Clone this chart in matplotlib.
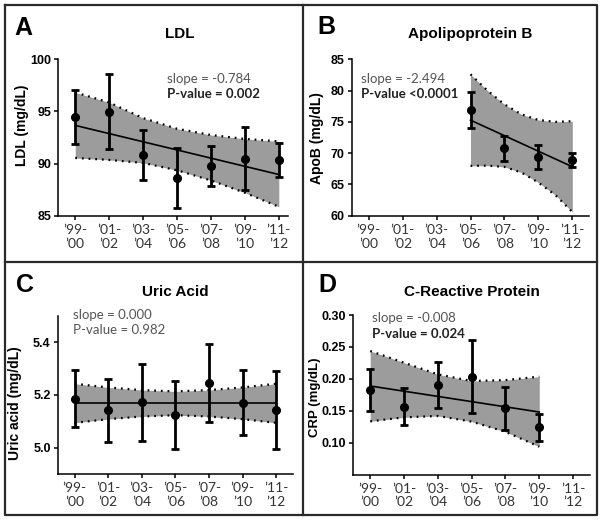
import matplotlib
matplotlib.use("Agg")
import matplotlib.pyplot as plt
from matplotlib.lines import Line2D

# survey cycles
cycles = ["\u201999-\n\u201900", "\u201901-\n\u201902", "\u201903-\n\u201904", "\u201905-\n\u201906",
          "\u201907-\n\u201908", "\u201909-\n\u201910", "\u201911-\n\u201912"]

# A: LDL
ldl_x = [0, 1, 2, 3, 4, 5, 6]
ldl_mean = [94.45, 94.95, 90.85, 88.6, 89.75, 90.45, 90.35]
ldl_lo = [91.9, 91.35, 88.45, 85.75, 87.85, 87.45, 88.7]
ldl_hi = [97.05, 98.6, 93.2, 91.45, 91.65, 93.55, 92.0]
ldl_fit = [93.66, 88.95]
ldl_band_x = [0, 1, 2, 3, 4, 5, 6]
ldl_band_hi = [96.82, 95.86, 94.36, 93.34, 92.74, 92.36, 92.13]
ldl_band_lo = [90.54, 90.35, 90.06, 89.36, 88.38, 87.2, 85.86]

# B: Apolipoprotein B
apob_x = [3, 4, 5, 6]
apob_mean = [76.85, 70.85, 69.4, 68.95]
apob_lo = [73.95, 68.7, 67.5, 67.75]
apob_hi = [79.75, 72.8, 71.35, 70.1]
apob_fit = [75.27, 67.83]
apob_band_x = [3, 3.5, 4, 4.5, 5, 5.5, 6]
apob_band_hi = [82.6, 80.0, 77.8, 76.2, 75.3, 75.0, 75.1]
apob_band_lo = [67.97, 68.0, 67.8, 66.9, 65.3, 63.3, 60.6]

# C: Uric acid
uric_x = [0, 1, 2, 3, 4, 5, 6]
uric_mean = [5.186, 5.143, 5.172, 5.123, 5.243, 5.171, 5.143]
uric_lo = [5.077, 5.023, 5.027, 4.996, 5.097, 5.047, 4.996]
uric_hi = [5.295, 5.261, 5.318, 5.252, 5.392, 5.294, 5.289]
uric_fit = [5.168, 5.168]
uric_band_x = [0, 1, 2, 3, 4, 5, 6]
uric_band_hi = [5.242, 5.228, 5.218, 5.213, 5.218, 5.228, 5.242]
uric_band_lo = [5.094, 5.108, 5.118, 5.123, 5.118, 5.108, 5.094]

# D: CRP
crp_x = [0, 1, 2, 3, 4, 5]
crp_mean = [0.182, 0.156, 0.191, 0.203, 0.154, 0.124]
crp_lo = [0.149, 0.127, 0.155, 0.146, 0.120, 0.103]
crp_hi = [0.215, 0.186, 0.226, 0.261, 0.187, 0.145]
crp_fit = [0.1888, 0.148]
crp_band_x = [0, 1, 2, 3, 4, 5]
crp_band_hi = [0.2436, 0.2253, 0.207, 0.1966, 0.198, 0.2034]
crp_band_lo = [0.1334, 0.1397, 0.1418, 0.133, 0.117, 0.0937]

W, H = 604, 521
fig = plt.figure(figsize=(W / 100, H / 100), dpi=100)

BOLD = "Liberation Sans"
LIGHT = "Lato"


def fx(px):
    return px / W


def fy(py):
    return 1 - py / H


def panel(rect, x, mean, lo, hi, fit, bx, bhi, blo, ylim, yticks, yfmt, xlim):
    ax = fig.add_axes(rect)
    ax.fill_between(bx, blo, bhi, color="#9c9c9c", lw=0, zorder=1)
    ax.plot(bx, bhi, color="black", lw=1.6, ls=(0, (0.8, 2.2)), zorder=2)
    ax.plot(bx, blo, color="black", lw=1.6, ls=(0, (0.8, 2.2)), zorder=2)
    ax.plot([x[0], x[-1]], fit, color="black", lw=1.2, zorder=3)
    yerr = [[m - l for m, l in zip(mean, lo)], [h - m for m, h in zip(mean, hi)]]
    ax.errorbar(x, mean, yerr=yerr, fmt="o", color="black", ms=5.5, elinewidth=2,
                capsize=3.2, capthick=2, zorder=4)
    ax.set_xlim(*xlim)
    ax.set_ylim(*ylim)
    ax.set_xticks(range(7))
    ax.set_xticklabels(cycles, fontsize=10, family=LIGHT, color="#333333", linespacing=1.15)
    ax.set_yticks(yticks)
    ax.set_yticklabels([yfmt.format(v) for v in yticks], fontsize=9, family=BOLD,
                       fontweight="bold")
    for s in ["top", "right"]:
        ax.spines[s].set_visible(False)
    for s in ["left", "bottom"]:
        ax.spines[s].set_linewidth(1.1)
    ax.tick_params(length=3, width=1.1, pad=2)
    ax.tick_params(axis="x", pad=3)
    return ax


panel([fx(58.3), fy(215.7), fx(230), (215.7 - 59.3) / H], ldl_x, ldl_mean, ldl_lo, ldl_hi,
      ldl_fit, ldl_band_x, ldl_band_hi, ldl_band_lo, (85, 100), [85, 90, 95, 100], "{:.0f}",
      (-0.5, 6.28))
panel([fx(351.7), fy(215.7), fx(237.6), (215.7 - 59.3) / H], apob_x, apob_mean, apob_lo,
      apob_hi, apob_fit, apob_band_x, apob_band_hi, apob_band_lo, (60, 85),
      [60, 65, 70, 75, 80, 85], "{:.0f}", (-0.5, 6.5))
panel([fx(57.7), fy(474.1), fx(235.3), 158.5 / H], uric_x, uric_mean, uric_lo, uric_hi,
      uric_fit, uric_band_x, uric_band_hi, uric_band_lo, (4.9, 5.5), [5.0, 5.2, 5.4],
      "{:.1f}", (-0.5, 6.5))
panel([fx(353.3), fy(474.6), fx(236.7), 159.6 / H], crp_x, crp_mean, crp_lo, crp_hi,
      crp_fit, crp_band_x, crp_band_hi, crp_band_lo, (0.05, 0.30),
      [0.10, 0.15, 0.20, 0.25, 0.30], "{:.2f}", (-0.5, 6.5))

# panel letters and titles
for letter, px, py in [("A", 14, 28), ("B", 317, 27), ("C", 16, 285), ("D", 318, 285)]:
    fig.text(fx(px), fy(py), letter, fontsize=18, fontweight="bold", family=BOLD, va="center")
for title, px, py in [("LDL", 180, 34), ("Apolipoprotein B", 470, 34),
                      ("Uric Acid", 175, 292), ("C-Reactive Protein", 472, 292)]:
    fig.text(fx(px), fy(py), title, fontsize=11, fontweight="bold", family=BOLD,
             ha="center", va="center")

# y labels
for lab, px, py, fs in [("LDL (mg/dL)", 22, 125, 10), ("ApoB (mg/dL)", 317, 138, 10),
                        ("Uric acid (mg/dL)", 15, 403, 10), ("CRP (mg/dL)", 315, 397, 9.5)]:
    fig.text(fx(px), fy(py), lab, fontsize=fs, fontweight="bold", family=BOLD,
             rotation=90, ha="center", va="center")

# regression stats
stats = [("slope = -0.784", "P-value = 0.002", 167, 79, "bold"),
         ("slope = -2.494", "P-value <0.0001", 361, 79, "bold"),
         ("slope = 0.000", "P-value = 0.982", 73, 315, "normal"),
         ("slope = -0.008", "P-value = 0.024", 372, 318, "bold")]
for s1, s2, px, py, w in stats:
    fig.text(fx(px), fy(py), s1, fontsize=9.5, family=LIGHT, color="#555555", va="center")
    fig.text(fx(px), fy(py + 15.5), s2, fontsize=9.5, family=LIGHT, fontweight=w,
             color="#222222" if w == "bold" else "#555555", va="center")

# panel frame
frame = dict(color="#2a2a2a", lw=1.6, transform=fig.transFigure)
fig.add_artist(Line2D([fx(5), fx(597), fx(597), fx(5), fx(5)],
                      [fy(5), fy(5), fy(515), fy(515), fy(5)], **frame))
fig.add_artist(Line2D([fx(302.5), fx(302.5)], [fy(5), fy(515)], **frame))
fig.add_artist(Line2D([fx(5), fx(597)], [fy(261.5), fy(261.5)], **frame))

fig.savefig("out.png", dpi=100)
